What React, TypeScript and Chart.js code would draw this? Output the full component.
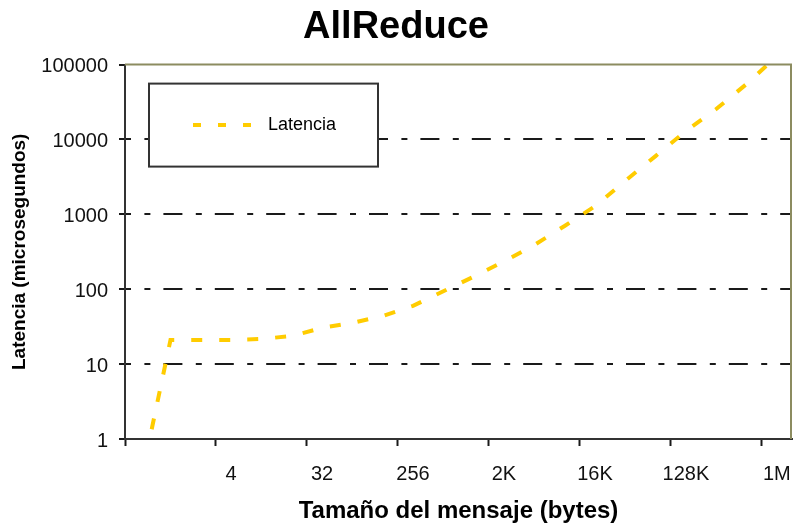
import React, { useEffect, useRef } from "react";
import { Chart, registerables } from "chart.js";

Chart.register(...registerables);

const categories = [
  "0", "1", "2", "4", "8", "16", "32", "64", "128", "256", "512",
  "1K", "2K", "4K", "8K", "16K", "32K", "64K", "128K", "256K", "512K", "1M",
];
const latency = [
  0.25, 21, 21, 21, 21.7, 23.7, 30.5, 35.5, 44, 60, 94,
  147, 235, 390, 700, 1280, 2800, 6000, 13000, 25500, 55000, 130000,
];
const yTicks = [1, 10, 100, 1000, 10000, 100000];
const seriesName = "Latencia";
const titleText = "AllReduce";
const xTitle = "Tamaño del mensaje (bytes)";
const yTitle = "Latencia (microsegundos)";

const FONT = "'Liberation Sans', Arial, sans-serif";
const LINE_COLOR = "#FFCC00";
const LINE_DASH = [11, 17];

const framePlugin = {
  id: "frameAndLegend",
  afterDraw(chart: any) {
    const { ctx, chartArea } = chart;
    const { left, top, right, bottom } = chartArea;
    ctx.save();
    // top & right plot border (olive)
    ctx.strokeStyle = "#8c8c60";
    ctx.lineWidth = 2;
    ctx.beginPath();
    ctx.moveTo(left, top);
    ctx.lineTo(right - 1, top);
    ctx.lineTo(right - 1, bottom);
    ctx.stroke();

    // legend box
    const bx = left + 24;
    const by = top + 19;
    const bw = 229;
    const bh = 83;
    ctx.fillStyle = "#ffffff";
    ctx.fillRect(bx, by, bw, bh);
    ctx.strokeStyle = "#333333";
    ctx.lineWidth = 2;
    ctx.strokeRect(bx, by, bw, bh);
    const ly = by + bh / 2;
    ctx.strokeStyle = LINE_COLOR;
    ctx.lineWidth = 4;
    ctx.setLineDash([8, 17]);
    ctx.beginPath();
    ctx.moveTo(bx + 44, ly);
    ctx.lineTo(bx + 104, ly);
    ctx.stroke();
    ctx.setLineDash([]);
    ctx.fillStyle = "#000000";
    ctx.font = `18px ${FONT}`;
    ctx.textBaseline = "middle";
    ctx.textAlign = "left";
    ctx.fillText(seriesName, bx + 119, ly);
    ctx.restore();
  },
};

export default function App() {
  const ref = useRef<HTMLCanvasElement | null>(null);

  useEffect(() => {
    if (!ref.current) return;
    const chart = new Chart(ref.current, {
      type: "line",
      data: {
        labels: categories,
        datasets: [
          {
            label: seriesName,
            data: latency,
            borderColor: LINE_COLOR,
            backgroundColor: LINE_COLOR,
            borderWidth: 4,
            borderDash: LINE_DASH,
            pointRadius: 0,
            fill: false,
            tension: 0,
          },
        ],
      },
      options: {
        responsive: false,
        animation: false,
        layout: { padding: { left: 0, right: 2, top: 0, bottom: 0 } },
        plugins: {
          legend: { display: false },
          tooltip: { enabled: false },
          title: {
            display: true,
            text: titleText,
            color: "#000",
            font: { family: FONT, size: 38, weight: "bold" },
            padding: { top: 5, bottom: 14 },
          },
        },
        scales: {
          x: {
            type: "category",
            offset: true,
            afterFit: (scale: any) => {
              scale.height = 87;
              scale.paddingLeft = 0;
              scale.paddingRight = 0;
            },
            grid: {
              offset: true,
              drawOnChartArea: false,
              drawTicks: true,
              tickLength: 7,
              tickWidth: 2,
              tickColor: (c: any) =>
                c.index !== undefined && c.index % 3 === 0 ? "#1a1a1a" : "rgba(0,0,0,0)",
            },
            border: { display: true, color: "#333333", width: 2 },
            ticks: {
              autoSkip: false,
              maxRotation: 0,
              minRotation: 0,
              padding: 16,
              color: "#111",
              font: { family: FONT, size: 20 },
              callback: (_v: any, i: number) =>
                i > 0 && i % 3 === 0 ? categories[i] : "",
            },
            title: {
              display: true,
              text: xTitle,
              color: "#000",
              font: { family: FONT, size: 24, weight: "bold" },
              padding: { top: 0, bottom: 0 },
            },
          },
          y: {
            type: "logarithmic",
            min: 1,
            max: 100000,
            afterFit: (scale: any) => {
              scale.width = 125;
            },
            afterBuildTicks: (scale: any) => {
              scale.ticks = yTicks.map((v) => ({ value: v }));
            },
            grid: {
              drawOnChartArea: true,
              drawTicks: true,
              tickLength: 6,
              lineWidth: 2,
              tickWidth: 2,
              color: (c: any) =>
                c.tick && (c.tick.value === 1 || c.tick.value === 100000)
                  ? "rgba(0,0,0,0)"
                  : "#1a1a1a",
              tickColor: "#1a1a1a",
            },
            border: {
              display: true,
              color: "#333333",
              width: 2,
              dash: [6, 13, 19, 13.4],
              dashOffset: 33,
            },
            ticks: {
              padding: 11,
              labelOffset: 2,
              color: "#111",
              font: { family: FONT, size: 20 },
              callback: (v: any) => String(v),
            },
            title: {
              display: true,
              text: yTitle,
              color: "#000",
              font: { family: FONT, size: 19, weight: "bold" },
              padding: { top: 8.6, bottom: 0 },
            },
          },
        },
      },
      plugins: [framePlugin],
    } as any);
    return () => chart.destroy();
  }, []);

  return (
    <div style={{ position: "fixed", left: 0, top: 0, width: 794, height: 526, background: "#fff" }}>
      <canvas ref={ref} width={794} height={526} style={{ display: "block" }} />
    </div>
  );
}
